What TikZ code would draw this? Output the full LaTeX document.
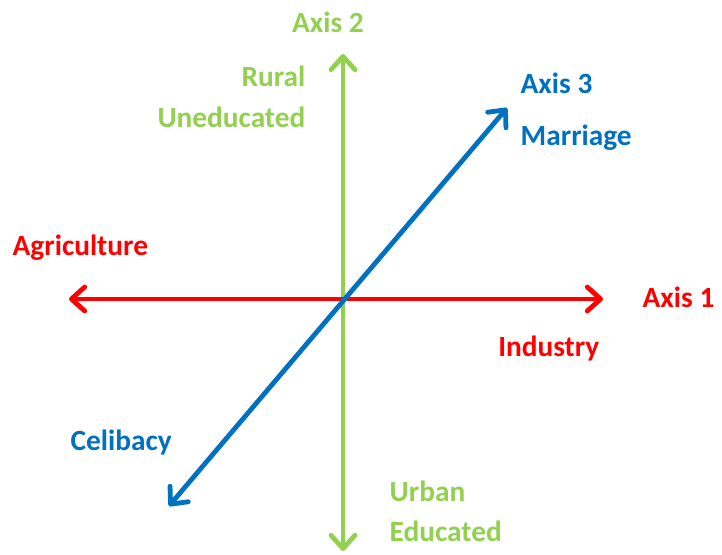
\documentclass[tikz,border=0pt]{standalone}
\usepackage{fontspec}
\setmainfont{Carlito}
\usetikzlibrary{arrows.meta}
\definecolor{axisred}{HTML}{FF0000}
\definecolor{axisgreen}{HTML}{92D050}
\definecolor{axisblue}{HTML}{0070C0}

\begin{document}
\begin{tikzpicture}[x=0.75pt,y=-0.75pt,
  axisline/.style={line width=3.6pt,line cap=round,
    {Straight Barb[length=10pt,width=18pt,round]}-{Straight Barb[length=10pt,width=18pt,round]}},
  lbl/.style={font=\bfseries\fontsize{22}{26}\selectfont}]
\useasboundingbox (0,0) rectangle (722,555);
% axis end points
\coordinate (west) at (69,299);
\coordinate (east) at (603,299);
\coordinate (north) at (343,54);
\coordinate (south) at (343,551);
\coordinate (ne) at (507,108);
\coordinate (sw) at (169,506);
\draw[axisline,axisgreen] (south)--(north);
\draw[axisline,axisred] (west)--(east);
\draw[axisline,axisblue] (sw)--(ne);
% labels
\node[lbl,axisgreen] (axtwo) at (328,22) {Axis 2};
\node[lbl,axisgreen,anchor=east] (rural) at (310,76) {Rural};
\node[lbl,axisgreen,anchor=east] (unedu) at (310,117) {Uneducated};
\node[lbl,axisgreen,anchor=west] (urban) at (385,491) {Urban};
\node[lbl,axisgreen,anchor=west] (edu) at (385,531) {Educated};
\node[lbl,axisred,anchor=west] (axone) at (638,297) {Axis 1};
\node[lbl,axisred,anchor=west] (agri) at (8,248) {Agriculture};
\node[lbl,axisred,anchor=east] (ind) at (604,349) {Industry};
\node[lbl,axisblue,anchor=west] (axthree) at (516,83) {Axis 3};
\node[lbl,axisblue,anchor=west] (marr) at (516,138) {Marriage};
\node[lbl,axisblue,anchor=west] (celib) at (66,443) {Celibacy};
\end{tikzpicture}
\end{document}
